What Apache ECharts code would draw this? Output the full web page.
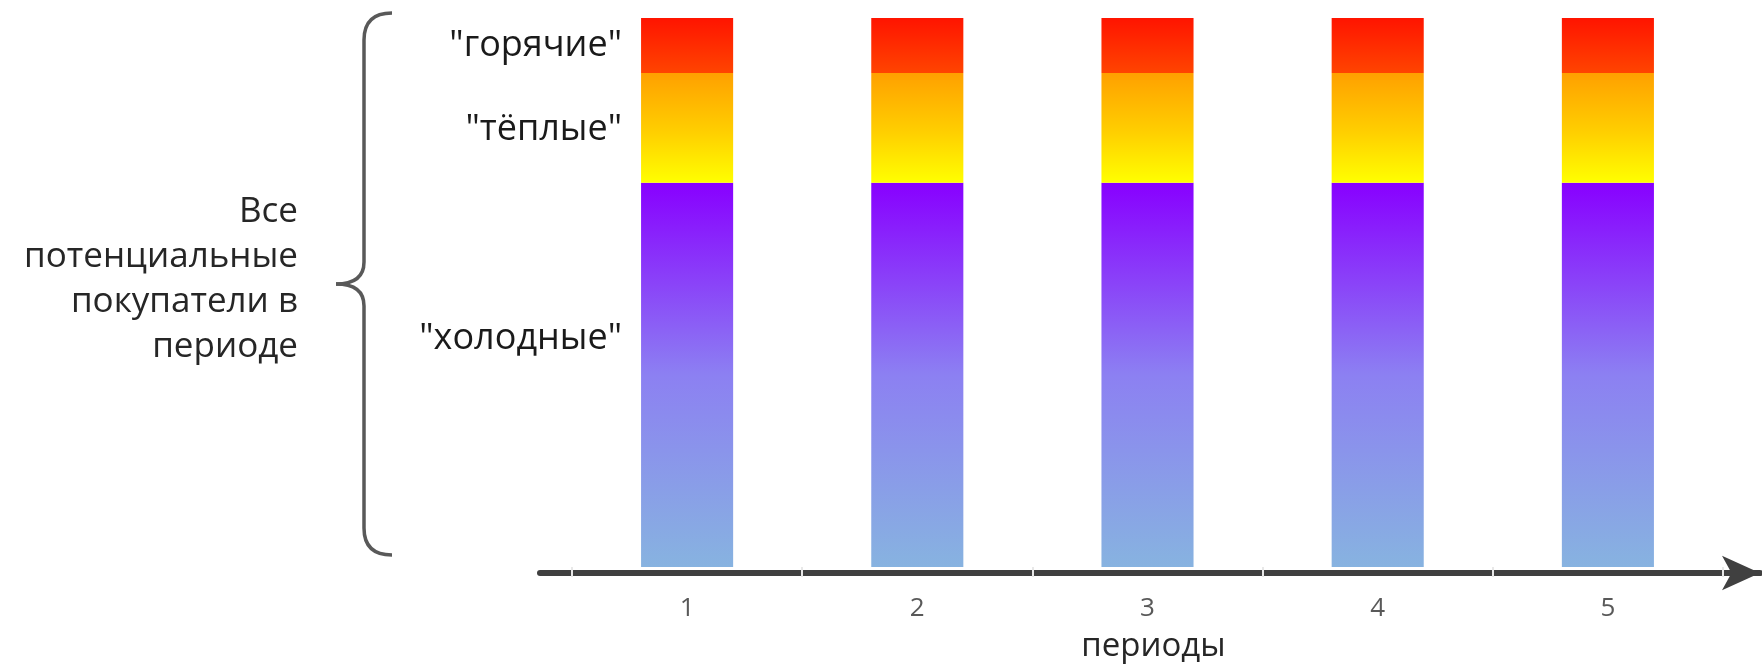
<!DOCTYPE html>
<html>
<head>
<meta charset="utf-8">
<script src="https://cdn.jsdelivr.net/npm/echarts@6/dist/echarts.min.js"></script>
<style>
  html, body { margin: 0; padding: 0; background: #fff; }
  #chart { width: 1762px; height: 665px; }
</style>
</head>
<body>
<div id="chart"></div>
<script>
// периоды
const periods = ['1', '2', '3', '4', '5'];
// доли покупателей в каждом периоде, %
const coldValues = [70, 70, 70, 70, 70];
const warmValues = [20, 20, 20, 20, 20];
const hotValues = [10, 10, 10, 10, 10];
const segmentNames = ['"холодные"', '"тёплые"', '"горячие"'];
const sideText = 'Все\nпотенциальные\nпокупатели в\nпериоде';
const axisName = 'периоды';

const FONT = '"Open Sans", "Noto Sans", sans-serif';

function vgrad(stops) {
  return {
    type: 'linear', x: 0, y: 0, x2: 0, y2: 1,
    colorStops: stops.map(s => ({ offset: s[0], color: s[1] }))
  };
}

// подпись слева только у первого столбика
function firstLabel(name, offset) {
  return {
    show: true,
    position: 'left',
    distance: 19,
    offset: offset || [0, 0],
    formatter: p => (p.dataIndex === 0 ? name : ''),
    color: '#1a1a1a',
    fontFamily: FONT,
    fontSize: 36
  };
}

const braceStyle = { fill: null, stroke: '#595959', lineWidth: 3.5 };

let chart = echarts.init(document.getElementById('chart'));

let option = {
  animation: false,
  grid: [
    { left: 572, right: 39, top: 18, bottom: 98, outerBoundsMode: 'none' },
    // только под длинную ось со стрелкой
    { left: 540, right: 2, top: 18, bottom: 92, outerBoundsMode: 'none' }
  ],
  xAxis: [
    {
      type: 'category',
      gridIndex: 0,
      data: periods,
      offset: 2,
      z: 5,
      axisLine: { show: false },
      axisTick: { show: true, length: 10, lineStyle: { color: '#e8e8e8', width: 2 } },
      axisLabel: { margin: 27, color: '#595959', fontFamily: FONT, fontSize: 26 },
      name: axisName,
      nameLocation: 'middle',
      nameGap: 61,
      nameTextStyle: { color: '#262626', fontFamily: FONT, fontSize: 33, padding: [0, 0, 0, 12] }
    },
    {
      type: 'value',
      gridIndex: 1,
      min: 0,
      max: 1,
      z: 1,
      axisLine: {
        show: true,
        symbol: ['none', 'arrow'],
        symbolSize: [26, 38],
        lineStyle: { color: '#404040', width: 6 }
      },
      axisTick: { show: false },
      axisLabel: { show: false },
      splitLine: { show: false }
    }
  ],
  yAxis: [
    { type: 'value', gridIndex: 0, min: 0, max: 100, show: false },
    { type: 'value', gridIndex: 1, min: 0, max: 1, show: false }
  ],
  series: [
    {
      name: segmentNames[0],
      type: 'bar',
      stack: 'all',
      barWidth: '40%',
      data: coldValues,
      itemStyle: { color: vgrad([[0, '#8800ff'], [0.5, '#8c80f2'], [1, '#87b3e0']]) },
      label: firstLabel(segmentNames[0], [0, -36])
    },
    {
      name: segmentNames[1],
      type: 'bar',
      stack: 'all',
      data: warmValues,
      itemStyle: { color: vgrad([[0, '#ffa000'], [0.55, '#ffd000'], [1, '#ffff00']]) },
      label: firstLabel(segmentNames[1], [0, 2])
    },
    {
      name: segmentNames[2],
      type: 'bar',
      stack: 'all',
      data: hotValues,
      itemStyle: { color: vgrad([[0, '#ff1400'], [1, '#ff4400']]) },
      label: firstLabel(segmentNames[2])
    }
  ],
  graphic: [
    { type: 'bezierCurve', shape: { x1: 392, y1: 13, cpx1: 364, cpy1: 13, x2: 364, y2: 40 }, style: braceStyle },
    { type: 'line', shape: { x1: 364, y1: 40, x2: 364, y2: 262 }, style: braceStyle },
    { type: 'bezierCurve', shape: { x1: 364, y1: 262, cpx1: 364, cpy1: 284, x2: 336, y2: 284 }, style: braceStyle },
    { type: 'bezierCurve', shape: { x1: 336, y1: 284, cpx1: 364, cpy1: 284, x2: 364, y2: 306 }, style: braceStyle },
    { type: 'line', shape: { x1: 364, y1: 306, x2: 364, y2: 528 }, style: braceStyle },
    { type: 'bezierCurve', shape: { x1: 364, y1: 528, cpx1: 364, cpy1: 555, x2: 392, y2: 555 }, style: braceStyle },
    {
      type: 'text',
      x: 298,
      y: 190,
      style: {
        text: sideText,
        align: 'right',
        verticalAlign: 'top',
        fill: '#262626',
        font: '35px ' + FONT,
        lineHeight: 45
      }
    }
  ]
};

chart.setOption(option);
</script>
</body>
</html>
